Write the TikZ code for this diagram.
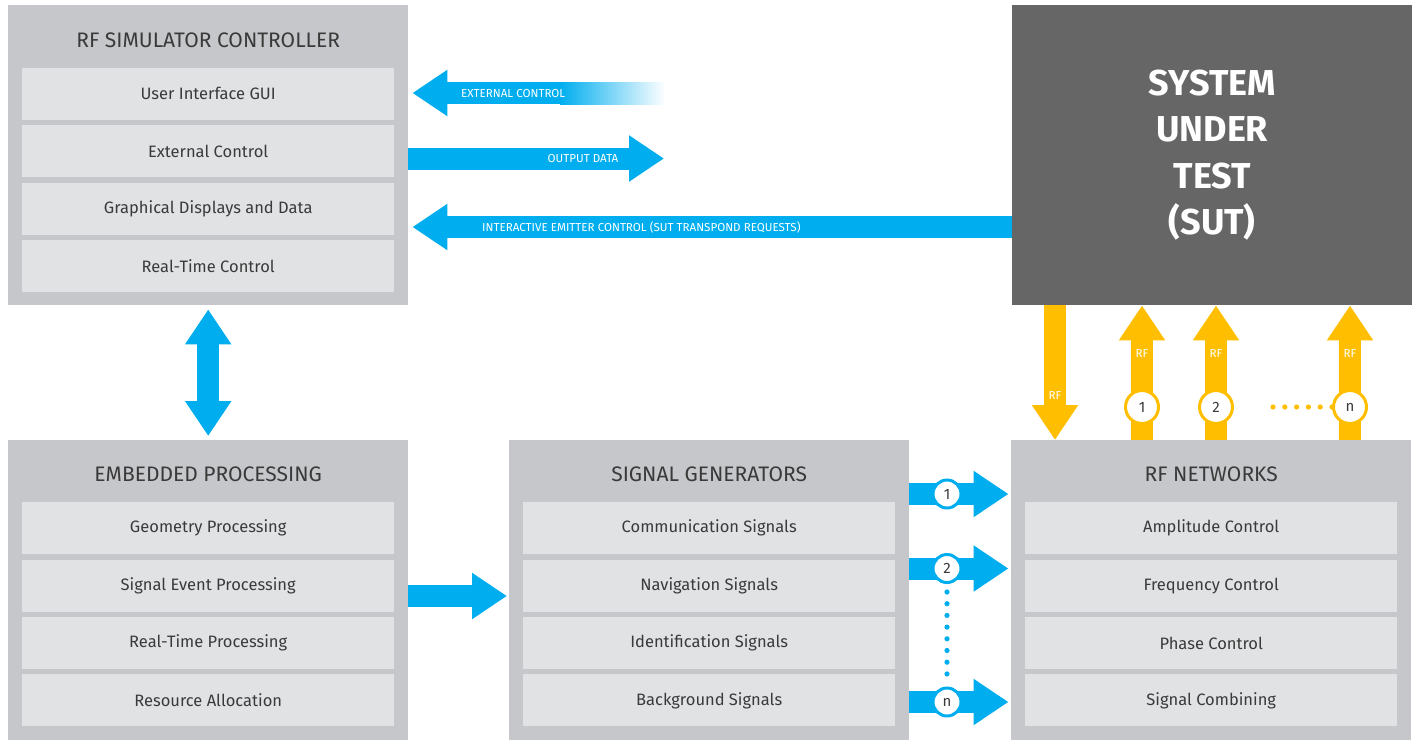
\documentclass[tikz,border=0pt]{standalone}
\usepackage{fontspec}
\setmainfont{Fira Sans}
\usetikzlibrary{arrows.meta,positioning}
\definecolor{boxgray}{HTML}{C6C7CA}
\definecolor{rowgray}{HTML}{E1E2E4}
\definecolor{sutgray}{HTML}{666666}
\definecolor{sky}{HTML}{00AEEF}
\definecolor{amber}{HTML}{FFBF00}
\definecolor{ink}{HTML}{3A3A3A}

\begin{document}
\begin{tikzpicture}[x=1pt,y=-1pt,
  panel/.style={fill=boxgray,minimum width=400pt,minimum height=300pt,anchor=north west,inner sep=0pt},
  title/.style={text=ink,font=\fontsize{21}{24}\selectfont},
  row/.style={fill=rowgray,minimum width=372pt,minimum height=52pt,inner sep=0pt,text=ink,font=\fontsize{16.5}{19}\selectfont},
  fat/.style={line width=22pt,-{Triangle[width=44pt,length=35pt]}},
  fatboth/.style={line width=22pt,{Triangle[width=44pt,length=35pt]}-{Triangle[width=44pt,length=35pt]}},
  tag/.style={text=white,font=\fontsize{11.6}{13}\selectfont,inner sep=0pt},
  num/.style={circle,fill=white,line width=3pt,inner sep=0pt,text=ink,font=\fontsize{15}{17}\selectfont}]
  \useasboundingbox (0,0) rectangle (1417,740);

  % panels
  \node[panel] (ctrl) at (8,5) {};
  \node[panel,fill=sutgray] (sut) at (1012,5) {};
  \node[panel] (emb) at (8,440) {};
  \node[panel] (sig) at (509,440) {};
  \node[panel] (rfn) at (1011,440) {};

  \node[title] at ([yshift=-35pt]ctrl.north) {RF SIMULATOR CONTROLLER};
  \node[title] at ([yshift=-34pt]emb.north) {EMBEDDED PROCESSING};
  \node[title] at ([yshift=-34pt]sig.north) {SIGNAL GENERATORS};
  \node[title] at ([yshift=-34pt]rfn.north) {RF NETWORKS};
  \node[text=white,align=center,font=\fontsize{36}{46.5}\selectfont\bfseries] at (sut.center)
    {SYSTEM\\UNDER\\TEST\\(SUT)};

  % rows
  \node[row,anchor=north] (ctrl1) at ([yshift=-62.5pt]ctrl.north) {User Interface GUI};
  \node[row,below=5pt of ctrl1] (ctrl2) {External Control};
  \node[row,below=5pt of ctrl2] (ctrl3) {Graphical Displays and Data};
  \node[row,below=5pt of ctrl3] (ctrl4) {Real-Time Control};

  \node[row,anchor=north] (emb1) at ([yshift=-62pt]emb.north) {Geometry Processing};
  \node[row,below=5pt of emb1] (emb2) {Signal Event Processing};
  \node[row,below=5pt of emb2] (emb3) {Real-Time Processing};
  \node[row,below=5pt of emb3] (emb4) {Resource Allocation};

  \node[row,anchor=north] (sig1) at ([yshift=-62pt]sig.north) {Communication Signals};
  \node[row,below=5pt of sig1] (sig2) {Navigation Signals};
  \node[row,below=5pt of sig2] (sig3) {Identification Signals};
  \node[row,below=5pt of sig3] (sig4) {Background Signals};

  \node[row,anchor=north] (rfn1) at ([yshift=-62pt]rfn.north) {Amplitude Control};
  \node[row,below=5pt of rfn1] (rfn2) {Frequency Control};
  \node[row,below=5pt of rfn2] (rfn3) {Phase Control};
  \node[row,below=5pt of rfn3] (rfn4) {Signal Combining};

  % blue links
  \coordinate (extfade) at (560,93);
  \coordinate (outend) at (664,158.5);
  \coordinate (emiy) at (0,227);
  \coordinate (feedy) at (0,596);
  \shade[left color=sky,right color=white] (560,82) rectangle (665,104);
  \draw[fat,sky,shorten >=4pt] (extfade) -- (ctrl.east |- extfade);
  \node[tag,anchor=west] at (461,93) {EXTERNAL CONTROL};
  \draw[fat,sky] (ctrl.east |- outend) -- (outend);
  \node[tag] at (583,158.5) {OUTPUT DATA};
  \draw[fat,sky,shorten >=4pt] (sut.west |- emiy) -- (ctrl.east |- emiy);
  \node[tag,anchor=west] at (482,227) {INTERACTIVE EMITTER CONTROL (SUT TRANSPOND REQUESTS)};
  \draw[fatboth,sky,shorten <=4pt,shorten >=4pt] (ctrl.south) -- (emb.north);
  \draw[fat,sky,shorten >=2pt] (emb.east |- feedy) -- (sig.west |- feedy);

  \foreach \n/\y in {1/494,2/568.5,n/702}{
    \coordinate (ch\n) at (947,\y);
    \draw[fat,sky,shorten >=2.5pt] (sig.east |- ch\n) -- (rfn.west |- ch\n);
  }
  \foreach \i in {0,...,7}
    \fill[sky] (947,592+\i*11.7) circle (2.6pt);
  \foreach \n in {1,2,n}
    \node[num,draw=sky,minimum size=28pt] (chan\n) at (ch\n) {\n};

  % RF links
  \coordinate (down) at (1055,0);
  \draw[fat,amber] (sut.south -| down) -- (rfn.north -| down);
  \node[tag] at (1055,395) {RF};
  \foreach \n/\x in {1/1142,2/1216,n/1350}{
    \coordinate (up\n) at (\x,407);
    \draw[fat,amber] (rfn.north -| up\n) -- (sut.south -| up\n);
    \node[tag] at (\x,353) {RF};
  }
  \foreach \i in {0,...,5}
    \fill[amber] (1273+\i*11.8,407) circle (2.6pt);
  \foreach \n in {1,2,n}
    \node[num,draw=amber,minimum size=33pt] (port\n) at (up\n) {\n};
\end{tikzpicture}
\end{document}
